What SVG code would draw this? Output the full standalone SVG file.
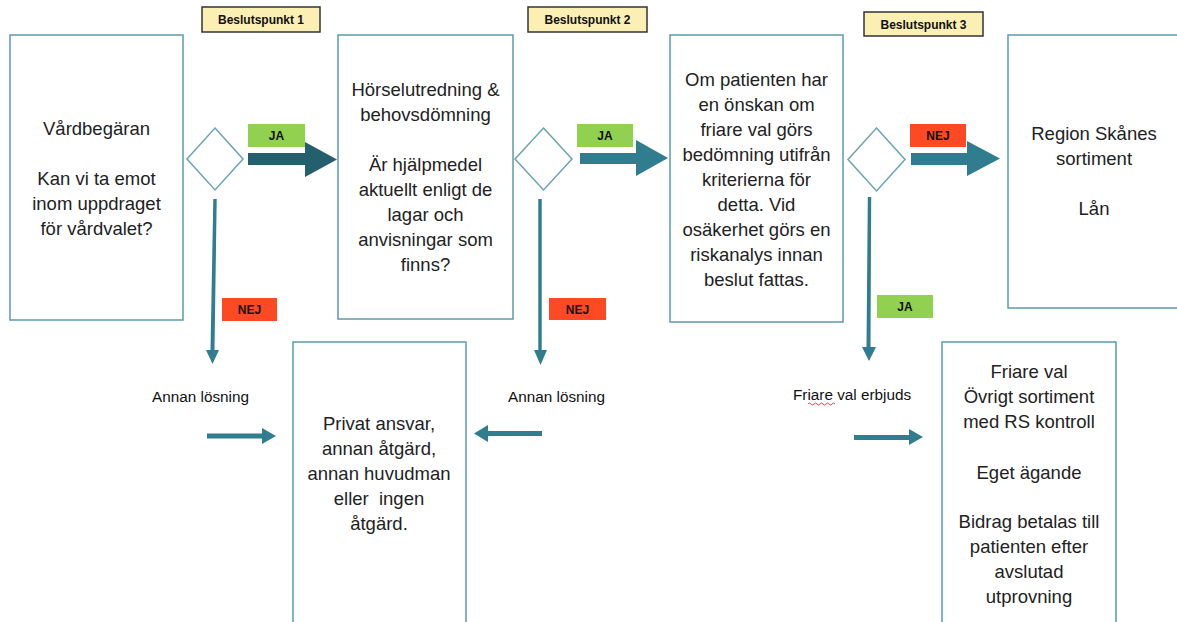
<svg xmlns="http://www.w3.org/2000/svg" width="1177" height="622" viewBox="0 0 1177 622">
<style>
.box{fill:#fff;stroke:#5b9bab;stroke-width:1.5}
.dia{fill:#fff;stroke:#6aa4b1;stroke-width:1.5}
.bp{fill:#fcefb4;stroke:#333;stroke-width:1.5}
.ja{fill:#92d050}
.nej{fill:#fd4a24}
.lbl{font-family:"Liberation Sans",Arial,sans-serif;font-weight:bold;font-size:12px;fill:#111;text-anchor:middle}
.t{font-family:"Liberation Sans",Arial,sans-serif;font-size:18.5px;fill:#222;text-anchor:middle}
.s{font-family:"Liberation Sans",Arial,sans-serif;font-size:15.3px;fill:#111}
.arr{fill:#2f7d8e}
</style>
<rect width="1177" height="622" fill="#fff"/>

<g id="node-vardbegaran">
<rect class="box" x="10" y="35" width="173" height="285"/>
<text class="t"><tspan x="96.5" y="135">Vårdbegäran</tspan><tspan x="96.5" y="185">Kan vi ta emot</tspan><tspan x="96.5" y="210">inom uppdraget</tspan><tspan x="96.5" y="235">för vårdvalet?</tspan></text>
</g>

<g id="node-horselutredning">
<rect class="box" x="338" y="35" width="175" height="284"/>
<text class="t"><tspan x="425.5" y="96">Hörselutredning &amp;</tspan><tspan x="425.5" y="121">behovsdömning</tspan><tspan x="425.5" y="171">Är hjälpmedel</tspan><tspan x="425.5" y="196">aktuellt enligt de</tspan><tspan x="425.5" y="221">lagar och</tspan><tspan x="425.5" y="246">anvisningar som</tspan><tspan x="425.5" y="271">finns?</tspan></text>
</g>

<g id="node-friare-bedomning">
<rect class="box" x="670" y="35" width="173" height="287"/>
<text class="t"><tspan x="756.5" y="86">Om patienten har</tspan><tspan x="756.5" y="111">en önskan om</tspan><tspan x="756.5" y="136">friare val görs</tspan><tspan x="756.5" y="161">bedömning utifrån</tspan><tspan x="756.5" y="186">kriterierna för</tspan><tspan x="756.5" y="211">detta. Vid</tspan><tspan x="756.5" y="236">osäkerhet görs en</tspan><tspan x="756.5" y="261">riskanalys innan</tspan><tspan x="756.5" y="286">beslut fattas.</tspan></text>
</g>

<g id="node-region-skane">
<rect class="box" x="1008" y="35" width="180" height="273"/>
<text class="t"><tspan x="1094" y="140">Region Skånes</tspan><tspan x="1094" y="165">sortiment</tspan><tspan x="1094" y="215">Lån</tspan></text>
</g>

<g id="node-privat">
<rect class="box" x="293" y="342" width="173" height="290"/>
<text class="t"><tspan x="379" y="430">Privat ansvar,</tspan><tspan x="379" y="455">annan åtgärd,</tspan><tspan x="379" y="480">annan huvudman</tspan><tspan x="379" y="505" xml:space="preserve">eller  ingen</tspan><tspan x="379" y="530">åtgärd.</tspan></text>
</g>

<g id="node-friare-val">
<rect class="box" x="942" y="342" width="174" height="290"/>
<text class="t"><tspan x="1029" y="378">Friare val</tspan><tspan x="1029" y="403">Övrigt sortiment</tspan><tspan x="1029" y="428">med RS kontroll</tspan><tspan x="1029" y="479">Eget ägande</tspan><tspan x="1029" y="528">Bidrag betalas till</tspan><tspan x="1029" y="553">patienten efter</tspan><tspan x="1029" y="578">avslutad</tspan><tspan x="1029" y="603">utprovning</tspan></text>
</g>

<g id="node-beslutspunkt-1">
<rect class="bp" x="202" y="7" width="118" height="25"/>
<text class="lbl" x="261" y="24">Beslutspunkt 1</text>
</g>
<g id="node-beslutspunkt-2">
<rect class="bp" x="528" y="7" width="119" height="25"/>
<text class="lbl" x="587.5" y="24">Beslutspunkt 2</text>
</g>
<g id="node-beslutspunkt-3">
<rect class="bp" x="864" y="12" width="119" height="24"/>
<text class="lbl" x="923.5" y="29">Beslutspunkt 3</text>
</g>

<g id="node-decision-1"><polygon class="dia" points="215,128 243,159 215,190 187,159"/></g>
<g id="node-decision-2"><polygon class="dia" points="543.5,128 572,159 543.5,190 515,159"/></g>
<g id="node-decision-3"><polygon class="dia" points="876.5,128 905,159.5 876.5,191 848,159.5"/></g>

<g id="connectors">
<polygon fill="#235f6c" points="248,153 305,153 305,142 337,159.5 305,177 305,165 248,165"/>
<polygon class="arr" points="580,153 636,153 636,140 668,158 636,176 636,164 580,164"/>
<polygon class="arr" points="911,153 967,153 967,141 1000,158.5 967,176 967,165 911,165"/>

<polygon class="arr" points="213.3,199 216.7,199 214.5,350 219,350 212.5,364 206,350 210.5,350"/>
<polygon class="arr" points="538.3,199 541.7,199 541.7,350 547,350 540.5,365 534,350 538.3,350"/>
<polygon class="arr" points="867.8,197 871.2,197 870.5,347 876,347 869,361 862,347 866.5,347"/>

<polygon class="arr" points="207,433.5 262,433.5 262,428 276,436 262,444 262,438.5 207,438.5"/>
<polygon class="arr" points="542,431 488,431 488,425 474,433.5 488,442 488,436 542,436"/>
<polygon class="arr" points="854,435 909,435 909,429 923,437 909,445 909,440 854,440"/>

<rect class="ja" x="248" y="124" width="57" height="23"/>
<text class="lbl" x="276.5" y="140">JA</text>
<rect class="ja" x="577" y="124" width="56" height="23"/>
<text class="lbl" x="605" y="140">JA</text>
<rect class="nej" x="910" y="124" width="56" height="23"/>
<text class="lbl" x="938" y="140">NEJ</text>

<rect class="nej" x="222" y="298" width="55" height="23"/>
<text class="lbl" x="249.5" y="314">NEJ</text>
<rect class="nej" x="549" y="298" width="57" height="22"/>
<text class="lbl" x="577.5" y="314">NEJ</text>
<rect class="ja" x="877" y="295" width="56" height="23"/>
<text class="lbl" x="905" y="311">JA</text>

<text class="s" x="152" y="402">Annan lösning</text>
<text class="s" x="508" y="402">Annan lösning</text>
<text class="s" x="793" y="400">Friare val erbjuds</text>
<path d="M808,404 q1.5,-2 3,0 t3,0 t3,0 t3,0 t3,0 t3,0 t3,0 t3,0 t3,0" fill="none" stroke="#e03030" stroke-width="0.9"/>
</g>
</svg>
